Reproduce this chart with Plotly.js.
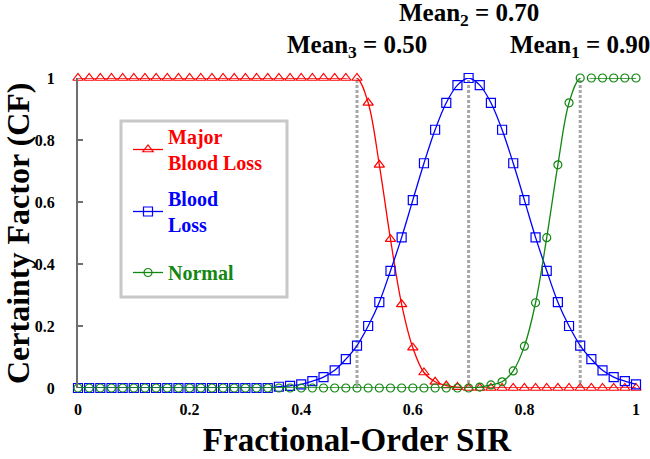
<!DOCTYPE html>
<html>
<head>
<meta charset="utf-8">
<script src="https://cdn.plot.ly/plotly-3.0.1.min.js"></script>
<style>html,body{margin:0;padding:0;background:#fff;}#chart{width:650px;height:459px;}</style>
</head>
<body>
<div id="chart"></div>
<script>
// Fractional-Order SIR sample points
const xValues = [0,0.02,0.04,0.06,0.08,0.10,0.12,0.14,0.16,0.18,0.20,0.22,0.24,0.26,0.28,0.30,0.32,0.34,0.36,0.38,0.40,0.42,0.44,0.46,0.48,0.50,0.52,0.54,0.56,0.58,0.60,0.62,0.64,0.66,0.68,0.70,0.72,0.74,0.76,0.78,0.80,0.82,0.84,0.86,0.88,0.90,0.92,0.94,0.96,0.98,1.00];

// Certainty factor: Major Blood Loss
const majorBloodLoss = [1,1,1,1,1,1,1,1,1,1,1,1,1,1,1,1,1,1,1,1,1,1,1,1,1,1,0.92,0.72,0.48,0.27,0.13,0.05,0.02,0.008,0.003,0,0,0,0,0,0,0,0,0,0,0,0,0,0,0,0];

// Certainty factor: Blood Loss
const bloodLoss = [0,0,0,0,0,0,0,0,0,0,0,0,0,0,0,0,0,0,0.004,0.007,0.012,0.022,0.035,0.057,0.093,0.137,0.20,0.277,0.378,0.486,0.606,0.725,0.833,0.92,0.977,1,0.977,0.92,0.833,0.725,0.606,0.486,0.378,0.277,0.20,0.137,0.093,0.057,0.035,0.022,0.012];

// Certainty factor: Normal
const normal = [0,0,0,0,0,0,0,0,0,0,0,0,0,0,0,0,0,0,0,0,0,0,0,0,0,0,0,0,0,0,0,0,0,0,0,0,0.003,0.01,0.02,0.055,0.135,0.275,0.485,0.72,0.92,1,1,1,1,1,1];

const seriesNames = ["Major<br>Blood Loss", "Blood<br>Loss", "Normal"];
const meanValues = [0.50, 0.70, 0.90];
const meanLabels = ["Mean<sub>3</sub> = 0.50", "Mean<sub>2</sub> = 0.70", "Mean<sub>1</sub> = 0.90"];
const meanLineTops = [1.04, 1.14, 1.03];
const xTicks = [0, 0.2, 0.4, 0.6, 0.8, 1];
const xTickText = ["0", "0.2", "0.4", "0.6", "0.8", "1"];
const yTicks = [0, 0.2, 0.4, 0.6, 0.8, 1];
const yTickText = ["0", "0.2", "0.4", "0.6", "0.8", "1"];
const xTitle = "Fractional-Order SIR";
const yTitle = "Certainty Factor (CF)";

const FONT = "Liberation Serif, Times New Roman, serif";
const colors = ["#FF0000", "#0000FF", "#128712"];
const symbols = ["triangle-up-open", "square-open", "circle-open"];
const sizes = [9, 9, 8];
const groups = ["a", "b", "c"];
const legendRefs = ["legend", "legend", "legend2"];
const ys = [majorBloodLoss, bloodLoss, normal];

function colourText(name, col) {
  return name.split("<br>").map(p => '<span style="color:' + col + '"><b>' + p + '</b></span>').join("<br>");
}

const traces = ys.map((y, i) => ({
  x: xValues, y: y, type: "scatter", mode: "lines+markers",
  name: colourText(seriesNames[i], colors[i]),
  legendgroup: groups[i],
  legend: legendRefs[i],
  line: {color: colors[i], width: 1.3, shape: "spline", smoothing: 1},
  marker: {symbol: symbols[i], size: sizes[i], color: colors[i], line: {width: 1.2, color: colors[i]}},
  cliponaxis: false
}));

const shapes = meanValues.map((m, i) => ({
  type: "line", xref: "x", yref: "y", x0: m, x1: m, y0: 0, y1: meanLineTops[i],
  line: {color: "#A6A6A6", width: 3, dash: "3px,2px"}, layer: "below"
}));
shapes.push({
  type: "rect", xref: "paper", yref: "paper",
  x0: (121 - 78) / 558, x1: (287 - 78) / 558,
  y0: (388 - 297) / 310, y1: (388 - 121) / 310,
  line: {color: "#C8C8C8", width: 3}, fillcolor: "rgba(0,0,0,0)", layer: "above"
});

const annY = [1.1, 1.205, 1.1];
const annotations = meanValues.map((m, i) => ({
  x: m, xref: "x", y: annY[i], yref: "paper", text: "<b>" + meanLabels[i] + "</b>",
  showarrow: false, xanchor: "center", yanchor: "middle",
  font: {family: FONT, size: 25, color: "#000"}
}));
annotations.push({
  x: 0, xref: "paper", y: 0.5, yref: "paper", xanchor: "center", yanchor: "middle",
  xshift: -60, textangle: -90, showarrow: false,
  text: "<b>" + yTitle + "</b>", font: {family: FONT, size: 32, color: "#000"}
});

const legendBase = {
  xanchor: "left", yanchor: "top",
  bgcolor: "rgba(255,255,255,0)", borderwidth: 0,
  traceorder: "grouped", tracegroupgap: 7,
  font: {family: FONT, size: 20}
};

const layout = {
  width: 650, height: 459,
  margin: {l: 78, r: 14, t: 78, b: 71, pad: 0},
  paper_bgcolor: "#fff", plot_bgcolor: "#fff",
  font: {family: FONT, color: "#000"},
  showlegend: true,
  legend: Object.assign({}, legendBase, {x: (128 - 78) / 558, y: (388 - 117) / 310}),
  legend2: Object.assign({}, legendBase, {x: (128 - 78) / 558, y: (388 - 253) / 310}),
  xaxis: {
    range: [0, 1], tickvals: xTicks, ticktext: xTickText.map(t => "<b>" + t + "</b>"),
    showgrid: false, zeroline: false, showline: false, ticks: "",
    ticklabelstandoff: 10,
    tickfont: {family: FONT, size: 16},
    title: {text: "<b>" + xTitle + "</b>", font: {family: FONT, size: 33}, standoff: 10}
  },
  yaxis: {
    range: [0, 1], tickvals: yTicks, ticktext: yTickText.map(t => "<b>" + t + "</b>"),
    showgrid: false, zeroline: false, showline: true, linecolor: "#6E6E6E", linewidth: 2,
    ticks: "inside", ticklen: 5, tickcolor: "#6E6E6E", tickwidth: 1.5,
    ticklabelstandoff: 18,
    tickfont: {family: FONT, size: 16}
  },
  shapes: shapes,
  annotations: annotations
};

Plotly.newPlot("chart", traces, layout, {displayModeBar: false, staticPlot: true});
</script>
</body>
</html>
